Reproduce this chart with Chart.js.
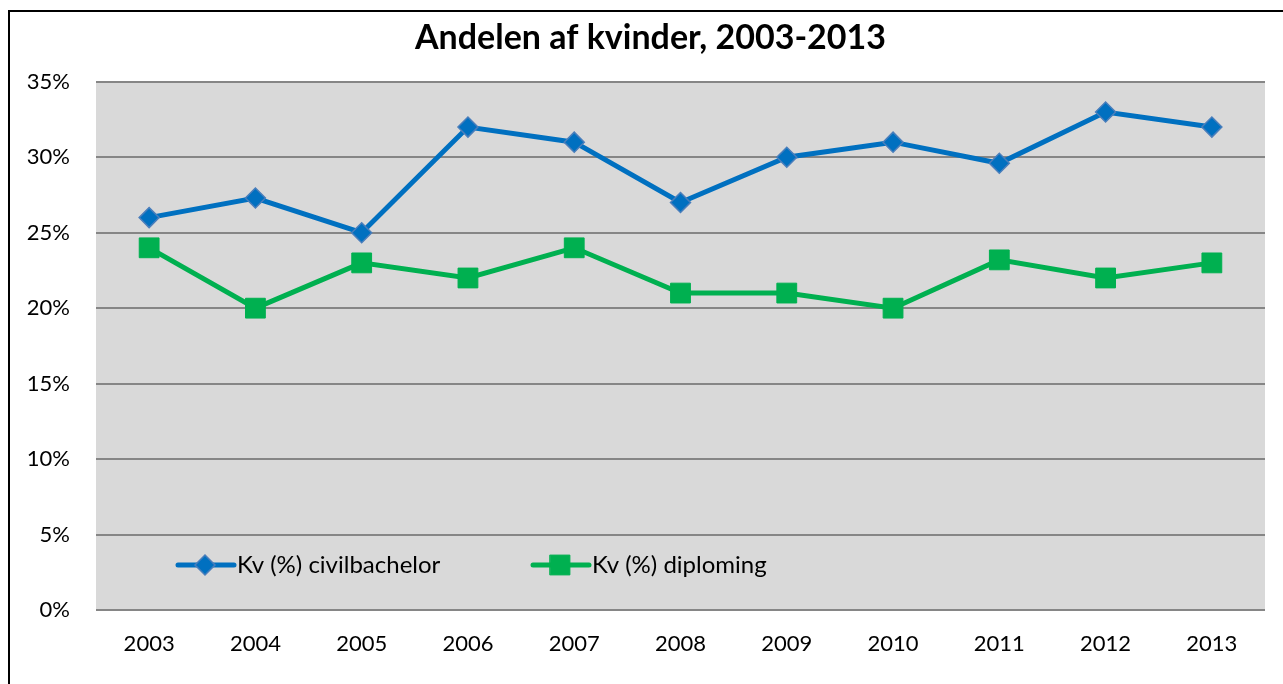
<!DOCTYPE html>
<html>
<head>
<meta charset="utf-8">
<script src="https://cdn.jsdelivr.net/npm/chart.js@4"></script>
<style>
  html, body { margin: 0; padding: 0; background: #fff; }
  #wrap { width: 1283px; height: 684px; }
</style>
</head>
<body>
<div id="wrap"><canvas id="chart" width="1283" height="684"></canvas></div>
<script>
const years = ['2003', '2004', '2005', '2006', '2007', '2008', '2009', '2010', '2011', '2012', '2013'];
const civilbachelor = [26, 27.3, 25, 32, 31, 27, 30, 31, 29.6, 33, 32];
const diploming = [24, 20, 23, 22, 24, 21, 21, 20, 23.2, 22, 23];
const seriesNames = ['Kv (%) civilbachelor', 'Kv (%) diploming'];

const FONT = 'Lato, "Liberation Sans", sans-serif';

// grey plot area + outer frame
const plotBg = {
  id: 'plotBg',
  afterLayout(chart) {
    // title is centred on the frame, not on the canvas
    chart.titleBlock.left = 36;
    chart.titleBlock.right = 1265;
  },
  beforeDraw(chart) {
    const { ctx, chartArea: a } = chart;
    ctx.save();
    ctx.fillStyle = '#d9d9d9';
    ctx.fillRect(a.left, a.top, a.right - a.left, a.bottom - a.top);
    ctx.strokeStyle = '#000';
    ctx.lineWidth = 2;
    ctx.strokeRect(9, 11, 1300, 700);
    ctx.restore();
  }
};

// legend sits inside the plot area, near the bottom
const innerLegend = {
  id: 'innerLegend',
  afterDatasetsDraw(chart) {
    const ctx = chart.ctx;
    const y = 565;
    const starts = [178, 533];
    ctx.save();
    chart.data.datasets.forEach((ds, i) => {
      const x0 = starts[i];
      ctx.strokeStyle = ds.borderColor;
      ctx.lineWidth = 5;
      ctx.lineCap = 'round';
      ctx.beginPath();
      ctx.moveTo(x0, y);
      ctx.lineTo(x0 + 56, y);
      ctx.stroke();
      ctx.fillStyle = ds.pointBackgroundColor;
      ctx.strokeStyle = ds.pointBorderColor;
      ctx.lineWidth = ds.pointBorderWidth;
      Chart.helpers.drawPoint(ctx, { pointStyle: ds.pointStyle, radius: ds.pointRadius, borderWidth: ds.pointBorderWidth, rotation: 0 }, x0 + 27, y);
      ctx.fillStyle = '#000';
      ctx.font = '24px ' + FONT;
      ctx.textBaseline = 'middle';
      ctx.textAlign = 'left';
      ctx.fillText(ds.label, x0 + 59, y);
    });
    ctx.restore();
  }
};

new Chart(document.getElementById('chart').getContext('2d'), {
  type: 'line',
  data: {
    labels: years,
    datasets: [{
      label: seriesNames[0],
      data: civilbachelor,
      borderColor: '#0070c0',
      borderWidth: 5,
      pointStyle: 'rectRot',
      pointRadius: 10,
      pointHoverRadius: 10,
      pointBackgroundColor: '#0070c0',
      pointBorderColor: '#4a7ebb',
      pointBorderWidth: 1.5,
      tension: 0
    }, {
      label: seriesNames[1],
      data: diploming,
      borderColor: '#00b050',
      borderWidth: 5,
      pointStyle: 'rect',
      pointRadius: 14,
      pointHoverRadius: 14,
      pointBackgroundColor: '#00b050',
      pointBorderColor: '#00b050',
      pointBorderWidth: 1,
      tension: 0
    }]
  },
  options: {
    responsive: false,
    animation: false,
    layout: { padding: { left: 0, right: 18, top: 0, bottom: 0 } },
    plugins: {
      legend: { display: false },
      tooltip: { enabled: false },
      title: {
        display: true,
        text: 'Andelen af kvinder, 2003-2013',
        color: '#000',
        font: { family: FONT, size: 34, weight: 'bold' },
        padding: { top: 18, bottom: 23 }
      }
    },
    scales: {
      x: {
        offset: true,
        grid: { display: false, drawTicks: false },
        border: { display: false },
        ticks: { color: '#000', font: { family: FONT, size: 22 }, padding: 21, maxRotation: 0 },
        afterFit(scale) { scale.height = 74; }
      },
      y: {
        min: 0,
        max: 35,
        grid: { color: '#868686', lineWidth: 2, drawTicks: false },
        border: { display: false },
        ticks: {
          stepSize: 5,
          color: '#000',
          font: { family: FONT, size: 22 },
          padding: 26,
          callback: v => v + '%'
        },
        afterFit(scale) { scale.width = 96; }
      }
    }
  },
  plugins: [plotBg, innerLegend]
});
</script>
</body>
</html>
